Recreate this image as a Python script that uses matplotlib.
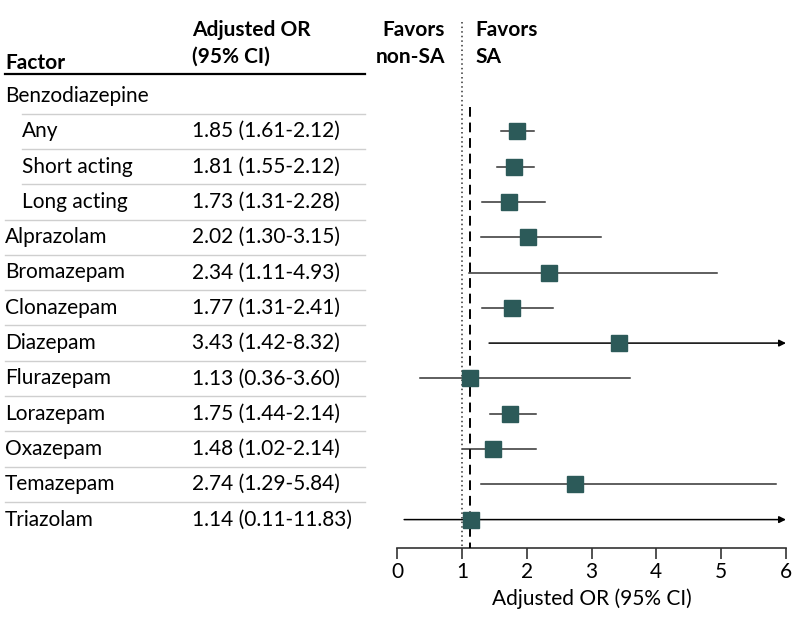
import matplotlib
matplotlib.use("Agg")
import matplotlib.pyplot as plt
from matplotlib.transforms import blended_transform_factory

plt.rcParams['font.family'] = ['Lato', 'DejaVu Sans']

labels = ["Benzodiazepine", "Any", "Short acting", "Long acting", "Alprazolam",
          "Bromazepam", "Clonazepam", "Diazepam", "Flurazepam", "Lorazepam",
          "Oxazepam", "Temazepam", "Triazolam"]
indent = [False, True, True, True, False, False, False, False, False, False,
          False, False, False]
or_text = ["", "1.85 (1.61-2.12)", "1.81 (1.55-2.12)", "1.73 (1.31-2.28)",
           "2.02 (1.30-3.15)", "2.34 (1.11-4.93)", "1.77 (1.31-2.41)",
           "3.43 (1.42-8.32)", "1.13 (0.36-3.60)", "1.75 (1.44-2.14)",
           "1.48 (1.02-2.14)", "2.74 (1.29-5.84)", "1.14 (0.11-11.83)"]
or_val = [None, 1.85, 1.81, 1.73, 2.02, 2.34, 1.77, 3.43, 1.13, 1.75, 1.48, 2.74, 1.14]
ci_lo = [None, 1.61, 1.55, 1.31, 1.30, 1.11, 1.31, 1.42, 0.36, 1.44, 1.02, 1.29, 0.11]
ci_hi = [None, 2.12, 2.12, 2.28, 3.15, 4.93, 2.41, 8.32, 3.60, 2.14, 2.14, 5.84, 11.83]
overall_line = 1.13
xticks = [0, 1, 2, 3, 4, 5, 6]
xmax = 6

W, H = 794, 629
fig = plt.figure(figsize=(W / 100, H / 100), dpi=100)

row0, step = 96, 35.3
bottom_px = 548
ax = fig.add_axes([397 / W, (H - bottom_px) / H, (786 - 397) / W, bottom_px / H])
ax.set_xlim(0, xmax)
ax.set_ylim((bottom_px - row0) / step, (0 - row0) / step)

def px2idx(p):
    return (p - row0) / step

sq_color = '#2c5a59'
line_color = '#333333'
for i in range(len(labels)):
    if or_val[i] is None:
        continue
    hi = ci_hi[i]
    if hi > xmax:
        ax.annotate('', xy=(xmax, i), xytext=(ci_lo[i], i),
                    arrowprops=dict(arrowstyle='-|>', color='black', lw=1.1,
                                    mutation_scale=10, shrinkA=0, shrinkB=0),
                    annotation_clip=False, zorder=2)
    else:
        ax.plot([ci_lo[i], hi], [i, i], color=line_color, lw=1.1, zorder=2)
    ax.plot(or_val[i], i, marker='s', ms=11, color=sq_color, mec=sq_color, zorder=4)

ax.plot([1, 1], [px2idx(22), px2idx(bottom_px)], color='#333333', lw=1.1,
        linestyle=(0, (1, 2)), zorder=1, clip_on=False)
ax.plot([overall_line, overall_line], [px2idx(107), px2idx(bottom_px)], color='black',
        lw=1.4, linestyle=(0, (5, 3)), zorder=3, clip_on=False)

for s in ['top', 'right', 'left']:
    ax.spines[s].set_visible(False)
ax.spines['bottom'].set_color('#333333')
ax.spines['bottom'].set_linewidth(1.2)
ax.set_yticks([])
fs = 15
ax.set_xticks(xticks)
ax.set_xticklabels([str(t) for t in xticks], fontsize=fs)
ax.tick_params(axis='x', direction='out', length=8, width=1.2, color='#333333', pad=2)
ax.set_xlabel("Adjusted OR (95% CI)", fontsize=fs, labelpad=5)

tr = blended_transform_factory(fig.transFigure, ax.transData)
for i, lab in enumerate(labels):
    x0 = 22 if indent[i] else 5
    ax.text(x0 / W, i, lab, transform=tr, fontsize=fs, va='center', ha='left', clip_on=False)
    if or_text[i]:
        ax.text(192 / W, i, or_text[i], transform=tr, fontsize=fs, va='center', ha='left',
                clip_on=False)
    if i < len(labels) - 1:
        xs = 22 if i < 3 else 5
        ax.plot([xs / W, 365 / W], [i + 0.5, i + 0.5], transform=tr, color='#cfcfcf',
                lw=1.0, clip_on=False)

def ftext(x, y, s, **kw):
    fig.text(x / W, 1 - y / H, s, fontsize=fs, fontweight='bold', va='center', **kw)

ftext(5, 63, "Factor", ha='left')
ftext(192, 30, "Adjusted OR", ha='left')
ftext(192, 57, "(95% CI)", ha='left')
ftext(445, 30, "Favors", ha='right')
ftext(445, 57, "non-SA", ha='right')
ftext(475, 30, "Favors", ha='left')
ftext(475, 57, "SA", ha='left')
fig.add_artist(plt.Line2D([5 / W, 365 / W], [1 - 74 / H, 1 - 74 / H], color='black', lw=1.6))

fig.savefig("out.png", dpi=100)
